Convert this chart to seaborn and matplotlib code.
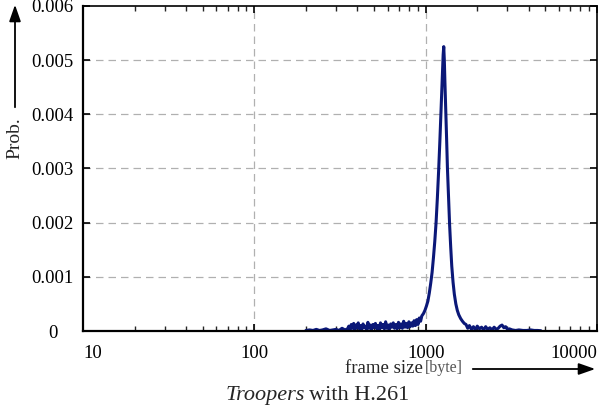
import numpy as np
import pandas as pd
import matplotlib
matplotlib.use("Agg")
import matplotlib.pyplot as plt
from matplotlib.ticker import LogLocator, NullFormatter, FixedLocator, FixedFormatter
import seaborn as sns

# ---- data (frame size in bytes, probability) ----
sizes_low = [200, 210, 220, 230, 240, 250, 262, 275, 288, 300, 312, 325, 338, 350]
probs_low = [1e-5, 2e-5, 1e-5, 3e-5, 1e-5, 2e-5, 4e-5, 1e-5, 2e-5, 3e-5, 1e-5, 5e-5, 2e-5, 4e-5]

sizes_rise = [356, 362, 368, 374, 380, 386, 392, 398, 404, 410,
              417, 424, 431, 438, 445, 452, 460, 468, 476, 484,
              492, 500, 509, 518, 527, 536, 545, 554, 564, 574,
              584, 594, 604, 614, 625, 636, 647, 658, 670, 682,
              694, 706, 718, 731, 744, 757, 770, 784, 798, 812,
              826, 841, 856, 871, 886, 902, 918, 934]
probs_rise = [9e-5, 3e-5, 12e-5, 5e-5, 14e-5, 2e-5, 11e-5, 6e-5, 15e-5, 4e-5,
              10e-5, 3e-5, 13e-5, 6e-5, 9e-5, 2e-5, 16e-5, 5e-5, 11e-5, 3e-5,
              12e-5, 7e-5, 14e-5, 4e-5, 10e-5, 2e-5, 15e-5, 6e-5, 12e-5, 4e-5,
              17e-5, 5e-5, 11e-5, 3e-5, 13e-5, 7e-5, 15e-5, 5e-5, 12e-5, 4e-5,
              16e-5, 6e-5, 13e-5, 5e-5, 18e-5, 7e-5, 14e-5, 6e-5, 17e-5, 8e-5,
              15e-5, 9e-5, 19e-5, 10e-5, 21e-5, 12e-5, 24e-5, 18e-5]

sizes_peak = [950, 970, 990, 1010, 1030, 1050, 1070, 1090, 1110, 1130,
              1150, 1170, 1190, 1210, 1230, 1250, 1265, 1275, 1285, 1295,
              1310, 1325, 1340, 1360, 1380, 1400, 1420, 1445, 1470, 1500,
              1530, 1560, 1600, 1640, 1680]
probs_peak = [2.8e-4, 3.2e-4, 3.8e-4, 4.6e-4, 5.5e-4, 7e-4, 8.8e-4, 1.08e-3, 1.35e-3, 1.65e-3,
              2.0e-3, 2.45e-3, 2.95e-3, 3.5e-3, 4.1e-3, 4.7e-3, 5.1e-3, 5.25e-3, 5.0e-3, 4.6e-3,
              4.1e-3, 3.55e-3, 3.0e-3, 2.45e-3, 1.95e-3, 1.55e-3, 1.2e-3, 9e-4, 6.8e-4, 5e-4,
              3.8e-4, 3e-4, 2.3e-4, 1.8e-4, 1.4e-4]

sizes_tail = [1720, 1760, 1800, 1850, 1900, 1950, 2000, 2060, 2120, 2180,
              2240, 2300, 2370, 2440, 2510, 2580, 2650, 2720, 2790, 2860,
              2930, 3000, 3080]
probs_tail = [12e-5, 5e-5, 10e-5, 3e-5, 8e-5, 2e-5, 9e-5, 4e-5, 7e-5, 2e-5,
              8e-5, 3e-5, 6e-5, 2e-5, 7e-5, 3e-5, 5e-5, 9e-5, 11e-5, 6e-5,
              8e-5, 3e-5, 4e-5]

sizes_end = [3200, 3350, 3500, 3700, 3900, 4100, 4300, 4500, 4700]
probs_end = [2e-5, 1e-5, 2e-5, 1e-5, 1e-5, 2e-5, 1e-5, 1e-5, 0.5e-5]

y_ticks = [0, 0.001, 0.002, 0.003, 0.004, 0.005, 0.006]
y_labels = ["0", "0.001", "0.002", "0.003", "0.004", "0.005", "0.006"]
x_ticks = [10, 100, 1000, 10000]
x_labels = ["10", "100", "1000", "10000"]

df = pd.DataFrame({
    "size": sizes_low + sizes_rise + sizes_peak + sizes_tail + sizes_end,
    "prob": probs_low + probs_rise + probs_peak + probs_tail + probs_end,
})

sns.set_style("ticks")
plt.rcParams["font.family"] = ["Liberation Serif", "DejaVu Serif"]

fig = plt.figure(figsize=(5.99, 4.11), dpi=100)
ax = fig.add_axes([83 / 599, 1 - 331 / 411, (597 - 83) / 599, (331 - 6) / 411])

sns.lineplot(data=df, x="size", y="prob", ax=ax, color="#0b1878", lw=2.2,
             estimator=None, sort=True)

ax.set_xscale("log")
ax.set_xlim(10, 10000)
ax.set_ylim(0, 0.006)

# grid
for xv in [100, 1000]:
    ax.axvline(xv, color="#b0b0b0", lw=0.9, ls=(0, (6, 4)), zorder=0)
for yv in y_ticks[1:-1]:
    ax.axhline(yv, color="#b0b0b0", lw=0.9, ls=(0, (6, 4)), zorder=0)

ax.xaxis.set_major_locator(FixedLocator(x_ticks))
ax.xaxis.set_major_formatter(FixedFormatter(x_labels))
ax.xaxis.set_minor_locator(LogLocator(base=10, subs=np.arange(2, 10)))
ax.xaxis.set_minor_formatter(NullFormatter())
ax.yaxis.set_major_locator(FixedLocator(y_ticks))
ax.yaxis.set_major_formatter(FixedFormatter(y_labels))

ax.tick_params(axis="both", which="major", direction="in", length=5, width=1.2,
               top=True, right=True, labelsize=13.5, colors="black")
ax.tick_params(axis="both", which="minor", direction="in", length=3.5, width=1.0,
               top=True, right=True)
ax.tick_params(axis="x", which="major", pad=10)
ax.tick_params(axis="y", which="major", pad=22)
for lab in ax.get_yticklabels():
    lab.set_horizontalalignment("center")
xl = ax.get_xticklabels()
xl[0].set_horizontalalignment("left")
xl[-1].set_horizontalalignment("right")

for side in ["left", "bottom"]:
    ax.spines[side].set_linewidth(1.6)
for side in ["top", "right"]:
    ax.spines[side].set_linewidth(1.2)
for s in ax.spines.values():
    s.set_color("black")

ax.set_xlabel("")
ax.set_ylabel("")

# x-axis label with arrow
fig.text(423 / 599, 1 - 368 / 411, "frame size", ha="right", va="center", fontsize=13.5)
fig.text(425 / 599, 1 - 368 / 411, "[byte]", ha="left", va="center", fontsize=11.5, color="#555555")
fig.add_artist(matplotlib.patches.FancyArrowPatch(
    (470 / 599, 1 - 369 / 411), (598 / 599, 1 - 369 / 411), transform=fig.transFigure,
    arrowstyle="-|>,head_length=10,head_width=3.5", lw=1.3, color="black", mutation_scale=1))

# y-axis label with arrow
fig.text(15 / 599, 1 - 138 / 411, "Prob.", ha="center", va="center", rotation=90, fontsize=14)
fig.add_artist(matplotlib.patches.FancyArrowPatch(
    (15 / 599, 1 - 110 / 411), (15 / 599, 1 - 2 / 411), transform=fig.transFigure,
    arrowstyle="-|>,head_length=10,head_width=3.5", lw=1.3, color="black", mutation_scale=1))

# caption
fig.text(305 / 599, 1 - 395 / 411, "Troopers", ha="right", va="center", fontsize=16, style="italic")
fig.text(309 / 599, 1 - 395 / 411, "with H.261", ha="left", va="center", fontsize=16)

fig.savefig("out.png", dpi=100)
